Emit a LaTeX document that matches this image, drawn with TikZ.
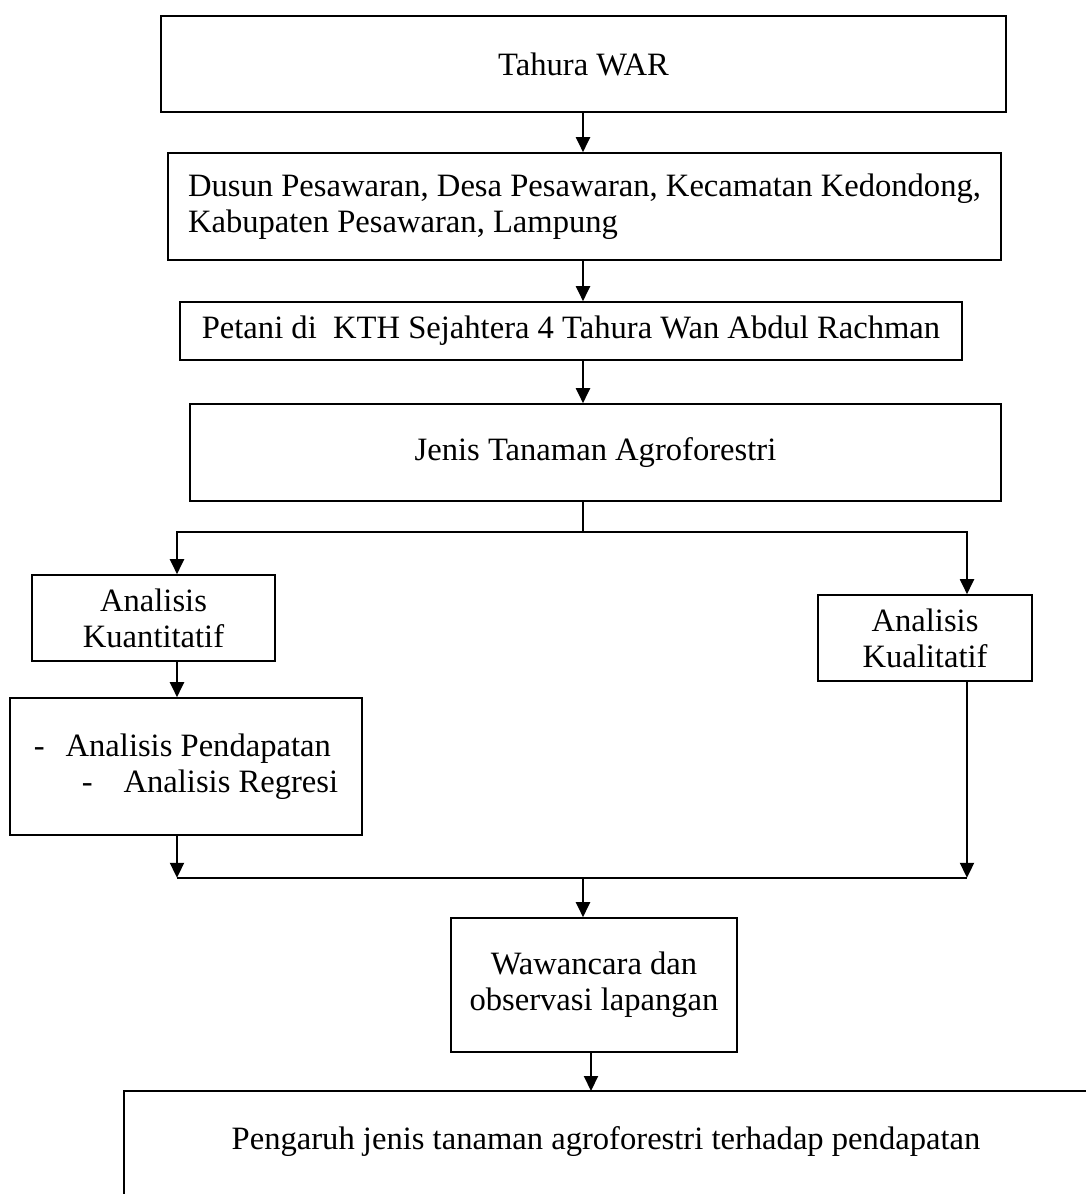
\documentclass[tikz,border=0pt]{standalone}
\usepackage{fontspec}
\setmainfont{Liberation Serif}
\usetikzlibrary{arrows.meta}
\tikzset{
  kotak/.style={draw, line width=1.6pt, inner sep=0pt, align=center, font=\fontsize{32.6}{36}\selectfont},
  panah/.style={line width=2pt, -{Triangle[length=15pt,width=14pt]}},
  garis/.style={line width=1.6pt}
}
\begin{document}
\begin{tikzpicture}[x=1pt,y=-1pt]
    \useasboundingbox (0,0) rectangle (1085,1194);
    % Hilfspunkte
    \coordinate (poros) at (583,0);
    \coordinate (kiri) at (177,0);
    \coordinate (kanan) at (967,0);
    \coordinate (atas) at (591,1091);

    % Kotak
    \node[kotak, minimum width=845, minimum height=96] (tahura) at (583.5,64) {Tahura WAR};
    \node[kotak, minimum width=833, minimum height=107, align=left] (desa) at (584.5,206.5)
        {Dusun Pesawaran, Desa Pesawaran, Kecamatan Kedondong,\\Kabupaten Pesawaran, Lampung};
    \node[kotak, minimum width=782, minimum height=58] (petani) at (571,331)
        {Petani di~ KTH Sejahtera 4 Tahura Wan Abdul Rachman};
    \node[kotak, minimum width=811, minimum height=97] (jenis) at (595.5,452.5) {Jenis Tanaman Agroforestri};
    \node[kotak, minimum width=243, minimum height=86] (kuan) at (153.5,618) {Analisis\\Kuantitatif};
    \node[kotak, minimum width=214, minimum height=86] (kual) at (925,638) {Analisis\\Kualitatif};
    \node[kotak, minimum width=352, minimum height=137, align=left] (metode) at (186,766.5)
        {-\hspace{21pt}Analisis Pendapatan\\\hspace*{48pt}-\hspace{31pt}Analisis Regresi};
    \node[kotak, minimum width=286, minimum height=134] (wawancara) at (594,985) {Wawancara dan\\observasi lapangan};
    \node[kotak, draw=none] (pengaruh) at (606,1142) {Pengaruh jenis tanaman agroforestri terhadap pendapatan};
    \draw[garis] (124,1220) |- (1100,1091);

    % Panah
    \draw[panah] (tahura.south -| poros) -- (desa.north -| poros);
    \draw[panah] (desa.south -| poros) -- (petani.north -| poros);
    \draw[panah] (petani.south -| poros) -- (jenis.north -| poros);
    \draw[garis] (jenis.south -| poros) -- ++(0,30) coordinate (cabang);
    \draw[panah] (cabang) -| (kuan.north -| kiri);
    \draw[panah] (cabang) -| (kual.north -| kanan);
    \draw[panah] (kuan.south -| kiri) -- (metode.north -| kiri);
    \draw[panah] (metode.south -| kiri) -- ++(0,42) coordinate (gabung);
    \draw[panah] (kual.south -| kanan) -- (gabung -| kanan);
    \draw[garis] (gabung) -- (gabung -| kanan);
    \draw[panah] (gabung -| poros) -- (wawancara.north -| poros);
    \draw[panah] (wawancara.south -| atas) -- (atas);
\end{tikzpicture}
\end{document}
